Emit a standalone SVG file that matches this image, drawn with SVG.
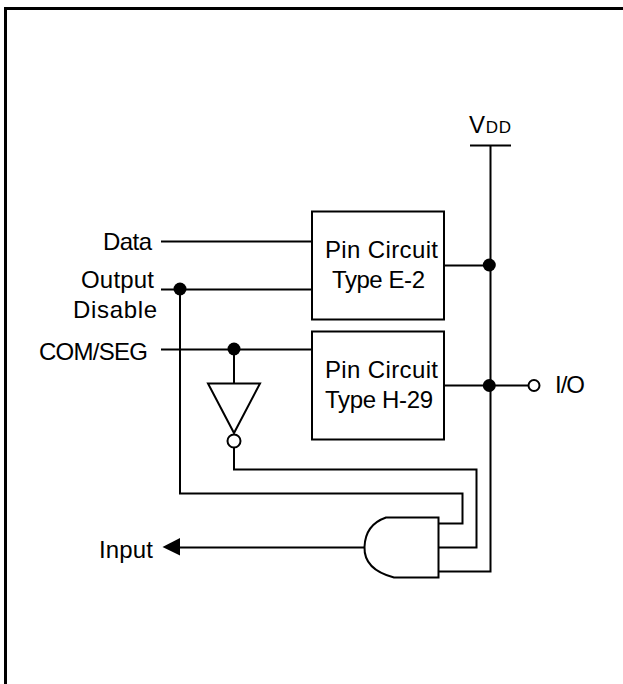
<svg xmlns="http://www.w3.org/2000/svg" width="623" height="684" viewBox="0 0 623 684">
<style>
.w{fill:none;stroke:#000;stroke-width:2;stroke-linejoin:miter}
.b{fill:#fff;stroke:#000;stroke-width:2}
.d{fill:#000}
text{font-family:"Liberation Sans",Arial,sans-serif;font-size:24px;fill:#000}
</style>
<rect width="623" height="684" fill="#fff"/>
<path id="frame" d="M5.500 684V8.500H623" fill="none" stroke="#000" stroke-width="3"/>
<g id="connectors">
<path class="w" d="M161 241.500H312"/>
<path class="w" d="M161 289.500H312"/>
<path class="w" d="M161 349.500H312"/>
<path class="w" d="M180 289.500V493.500H462.500V523.500H438"/>
<path class="w" d="M234 349.500V384"/>
<path class="w" d="M234 446V469.500H476.500V547.500H438"/>
<path class="w" d="M490.500 145V571.500H438"/>
<path class="w" d="M470 145.500H511"/>
<path class="w" d="M444 265.500H490"/>
<path class="w" d="M444 385.500H528"/>
<path class="w" d="M366 547.500H176"/>
<polygon class="d" points="162.500,547 180,538 180,555.500"/>
<circle class="d" cx="180" cy="289" r="6.500"/>
<circle class="d" cx="234" cy="349" r="6.500"/>
<circle class="d" cx="489.300" cy="265" r="6.500"/>
<circle class="d" cx="489.300" cy="385.500" r="6.500"/>
</g>
<g id="vdd"><text x="469" y="133" textLength="42" font-size="23">V<tspan font-size="17">DD</tspan></text></g>
<g id="data"><text x="103" y="250" textLength="49">Data</text></g>
<g id="output-disable"><text x="81" y="288" textLength="73">Output</text><text x="73" y="318" textLength="84">Disable</text></g>
<g id="comseg"><text x="39" y="360" textLength="109">COM/SEG</text></g>
<g id="input"><text x="99" y="558" textLength="54">Input</text></g>
<g id="io"><circle class="b" cx="534" cy="385.500" r="5.500"/><text x="555" y="393" textLength="30">I/O</text></g>
<g id="pin-e2"><rect class="b" x="312" y="211.500" width="132" height="108"/><text x="325" y="258" textLength="113">Pin Circuit</text><text x="332" y="288" textLength="93">Type E-2</text></g>
<g id="pin-h29"><rect class="b" x="312" y="331.500" width="132" height="108"/><text x="325" y="378" textLength="113">Pin Circuit</text><text x="325" y="408" textLength="108">Type H-29</text></g>
<g id="inverter"><polygon class="b" points="208,383.500 260,383.500 234,433"/><circle class="b" cx="234" cy="441" r="6.500"/></g>
<g id="and-gate"><path class="b" d="M438.500 517.500H386C373 522 365 532 364.500 547C364 562 373 572 394 577.500H438.500Z"/></g>
</svg>
